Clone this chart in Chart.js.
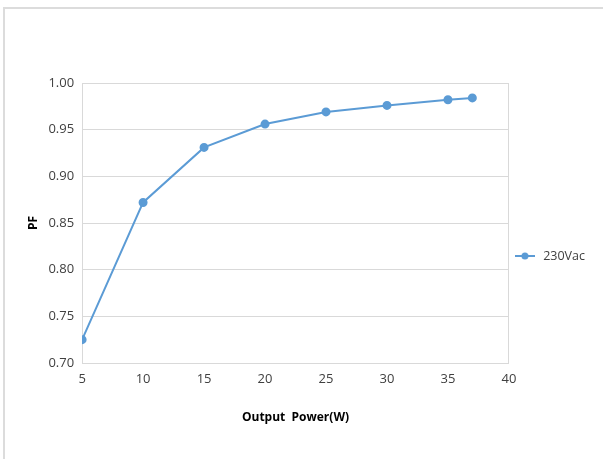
<!DOCTYPE html>
<html>
<head>
<meta charset="utf-8">
<script src="https://cdn.jsdelivr.net/npm/chart.js@4"></script>
<style>
  body { margin:0; background:#fff; }
  #wrap { position:relative; width:603px; height:459px; }
  #frame { position:absolute; left:3px; top:7px; width:620px; height:470px; border:2px solid #dcdcdc; box-sizing:border-box; }
  canvas { position:absolute; left:0; top:0; }
</style>
</head>
<body>
<div id="wrap">
  <div id="frame"></div>
  <canvas id="pfChart" width="603" height="459"></canvas>
</div>
<script>
// output power (W) and measured PF at 230Vac
const powerW = [5, 10, 15, 20, 25, 30, 35, 37];
const pf230 = [0.725, 0.872, 0.931, 0.956, 0.969, 0.976, 0.982, 0.984];
const seriesName = "230Vac";

const blue = "#5b9bd5";
const gridGray = "#d9d9d9";
const txt = "#404040";

// legend marker: short line with a dot, like Excel
function legendIcon(){
  const c = document.createElement("canvas");
  c.width = 20; c.height = 8;
  const g = c.getContext("2d");
  g.strokeStyle = blue; g.lineWidth = 2;
  g.beginPath(); g.moveTo(0,4); g.lineTo(20,4); g.stroke();
  g.fillStyle = blue;
  g.beginPath(); g.arc(10,4,3.5,0,Math.PI*2); g.fill();
  return c;
}

window.addEventListener('load', chart)

function chart(){
  new Chart(document.getElementById("pfChart"), {
    type: 'line',
    data: {
      datasets: [{
        label: seriesName,
        data: powerW.map((x, i) => ({x: x, y: pf230[i]})),
        borderColor: blue,
        backgroundColor: blue,
        borderWidth: 2,
        pointRadius: 3.5,
        pointHoverRadius: 3.5,
        tension: 0,
        fill: false
      }]
    },
    options: {
      responsive: false,
      animation: false,
      layout: { padding: { left: 22, top: 83, right: 8, bottom: 30 } },
      plugins: {
        legend: {
          position: 'right',
          labels: {
            usePointStyle: true,
            pointStyleWidth: 24,
            boxWidth: 24,
            color: txt,
            font: { family: "Open Sans", size: 12.5 },
            padding: 4,
            generateLabels: (ch) => [{
              text: seriesName,
              pointStyle: legendIcon(),
              fontColor: txt,
              lineWidth: 0,
              datasetIndex: 0
            }]
          }
        },
        tooltip: { enabled: false }
      },
      scales: {
        x: {
          type: 'linear',
          min: 5, max: 40,
          ticks: { stepSize: 5, color: txt, font: { family: "Open Sans", size: 13 }, padding: 8 },
          grid: {
            drawTicks: false,
            color: (c) => (c.index === 0 || c.index === 7) ? gridGray : 'transparent'
          },
          border: { color: gridGray },
          title: { display: true, text: "Output  Power(W)", color: "#000", font: { family: "Open Sans", size: 12, weight: 'bold' }, padding: { top: 16 } }
        },
        y: {
          min: 0.7, max: 1.0,
          ticks: { stepSize: 0.05, color: txt, font: { family: "Open Sans", size: 13 }, padding: 8,
                   callback: (v) => v.toFixed(2) },
          grid: { drawTicks: false, color: gridGray },
          border: { color: gridGray },
          title: { display: true, text: "PF", color: "#000", font: { family: "Open Sans", size: 12, weight: 'bold' }, padding: { bottom: 0 } }
        }
      }
    }
  });
}
</script>
</body>
</html>
